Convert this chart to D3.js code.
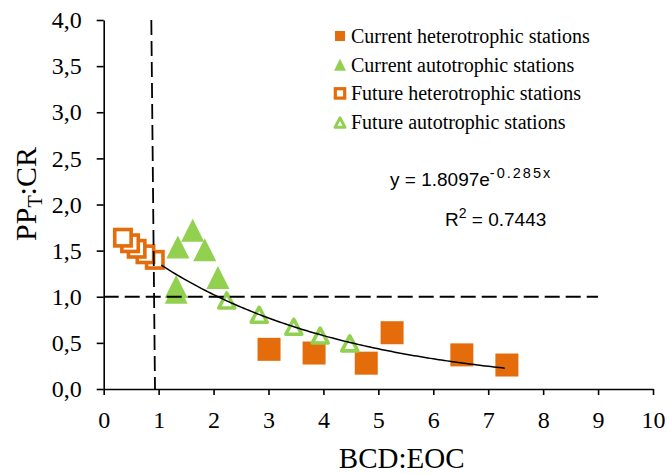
<!DOCTYPE html>
<html>
<head>
<meta charset="utf-8">
<script src="https://cdn.jsdelivr.net/npm/d3@7"></script>
<style>
  body { margin: 0; background: #fff; }
  svg { display: block; }
</style>
</head>
<body>
<div id="chart"></div>
<script>
// values
const currentHetero = [[3.01, 0.43], [3.83, 0.39], [4.78, 0.28], [5.25, 0.61], [6.52, 0.37], [7.34, 0.26]];
const currentAuto = [[1.35, 1.54], [1.62, 1.72], [1.84, 1.51], [2.08, 1.21], [1.32, 1.11], [1.32, 1.05]];
const futureHetero = [[0.93, 1.40], [0.76, 1.46], [0.60, 1.52], [0.48, 1.58], [0.35, 1.64]];
const futureAuto = [[2.24, 0.965], [2.83, 0.81], [3.46, 0.68], [3.94, 0.585], [4.48, 0.50]];
const xTicks = [0, 1, 2, 3, 4, 5, 6, 7, 8, 9, 10];
const yTicks = [0, 0.5, 1, 1.5, 2, 2.5, 3, 3.5, 4];
const legendLabels = ['Current heterotrophic stations', 'Current autotrophic stations',
  'Future heterotrophic stations', 'Future autotrophic stations'];
// trend line y = a * e^(b x), drawn over the fitted range
const trendA = 1.8097, trendB = -0.285, trendRange = [1.05, 7.34];

const orange = '#E46C0A', green = '#92D050';
const serif = "'Liberation Serif', 'Times New Roman', serif";
const sans = "'Liberation Sans', Arial, sans-serif";
const W = 667, H = 474;

const svg = d3.select('#chart').append('svg')
  .attr('width', W).attr('height', H);

const x = d3.scaleLinear().domain([0, 10]).range([103.7, 653]);
const y = d3.scaleLinear().domain([0, 4]).range([389, 20]);

// triangle path centred on its bounding box
const tri = (w, h) => `M0,${-h / 2}L${w / 2},${h / 2}L${-w / 2},${h / 2}Z`;

// axes
const fmt = d => d3.format('.1f')(d).replace('.', ',');
const xAxis = svg.append('g')
  .attr('transform', `translate(0, ${y(0)})`)
  .call(d3.axisBottom(x).tickValues(xTicks).tickSize(6).tickSizeOuter(0).tickPadding(16));
const yAxis = svg.append('g')
  .attr('transform', `translate(${x(0)}, 0)`)
  .call(d3.axisLeft(y).tickValues(yTicks).tickFormat(fmt).tickSize(7).tickSizeOuter(0).tickPadding(15));
[xAxis, yAxis].forEach(g => {
  g.select('.domain').attr('stroke', '#000').attr('stroke-width', 1.6);
  g.selectAll('.tick line').attr('stroke', '#000').attr('stroke-width', 1.6);
  g.selectAll('.tick text')
    .attr('fill', '#000')
    .attr('font-family', serif)
    .attr('font-size', 24);
});

// markers
const plot = svg.append('g');
plot.selectAll('rect.ch').data(currentHetero).enter().append('rect')
  .attr('class', 'ch')
  .attr('x', d => x(d[0]) - 11.5).attr('y', d => y(d[1]) - 11.5)
  .attr('width', 23).attr('height', 23)
  .attr('fill', orange);
plot.selectAll('path.ca').data(currentAuto).enter().append('path')
  .attr('class', 'ca')
  .attr('d', tri(23, 23))
  .attr('transform', d => `translate(${x(d[0])}, ${y(d[1])})`)
  .attr('fill', green);
plot.selectAll('rect.fh').data(futureHetero).enter().append('rect')
  .attr('class', 'fh')
  .attr('x', d => x(d[0]) - 8.2).attr('y', d => y(d[1]) - 8.2)
  .attr('width', 16.4).attr('height', 16.4)
  .attr('fill', '#fff').attr('stroke', orange).attr('stroke-width', 3.6);
plot.selectAll('path.fa').data(futureAuto).enter().append('path')
  .attr('class', 'fa')
  .attr('d', tri(16, 15))
  .attr('transform', d => `translate(${x(d[0])}, ${y(d[1]) + 0.5})`)
  .attr('fill', '#fff').attr('stroke', green).attr('stroke-width', 3.6)
  .attr('stroke-linejoin', 'round');

// dashed reference lines
svg.append('line')
  .attr('x1', x(0)).attr('x2', x(9)).attr('y1', y(1)).attr('y2', y(1))
  .attr('stroke', '#000').attr('stroke-width', 1.8).attr('stroke-dasharray', '15,6');
svg.append('line')
  .attr('x1', x(0.867)).attr('x2', x(0.934)).attr('y1', y(4)).attr('y2', y(0))
  .attr('stroke', '#000').attr('stroke-width', 1.8).attr('stroke-dasharray', '15,6');

// trend line
const trendXs = d3.range(trendRange[0], trendRange[1] + 0.001, 0.05);
svg.append('path')
  .datum(trendXs)
  .attr('d', d3.line().x(d => x(d)).y(d => y(trendA * Math.exp(trendB * d))))
  .attr('fill', 'none').attr('stroke', '#000').attr('stroke-width', 1.5);

// equation
const eq = svg.append('text')
  .attr('x', 390).attr('y', 186)
  .attr('font-family', sans)
  .attr('font-size', 19).attr('fill', '#000');
eq.append('tspan').text('y = 1.8097e');
eq.append('tspan').attr('dy', -8).attr('font-size', 14.5).attr('letter-spacing', 2).text('-0.285x');
const r2 = svg.append('text')
  .attr('x', 445).attr('y', 226)
  .attr('font-family', sans)
  .attr('font-size', 19).attr('fill', '#000');
r2.append('tspan').text('R');
r2.append('tspan').attr('dy', -8).attr('font-size', 14).text('2');
r2.append('tspan').attr('dy', 8).text(' = 0.7443');

// axis titles
svg.append('text')
  .attr('x', 401.7).attr('y', 468)
  .attr('text-anchor', 'middle')
  .attr('font-family', serif)
  .attr('font-size', 29).attr('fill', '#000')
  .text('BCD:EOC');
const yt = svg.append('text')
  .attr('transform', 'translate(36, 194) rotate(-90)')
  .attr('text-anchor', 'middle')
  .attr('font-family', serif)
  .attr('font-size', 30).attr('fill', '#000');
yt.append('tspan').text('PP');
yt.append('tspan').attr('dy', 6).attr('font-size', 20).text('T');
yt.append('tspan').attr('dy', -6).text(':CR');

// legend
const legend = svg.append('g').attr('transform', 'translate(340, 36)');
const rows = legend.selectAll('g').data(legendLabels).enter().append('g')
  .attr('transform', (d, i) => `translate(0, ${i * 28.7})`);
rows.append('text')
  .attr('x', 11).attr('y', 6.8)
  .attr('font-family', serif)
  .attr('font-size', 20).attr('fill', '#000')
  .text(d => d);
rows.each(function (d, i) {
  const g = d3.select(this);
  if (i === 0) g.append('rect').attr('x', -5).attr('y', -5).attr('width', 10).attr('height', 10).attr('fill', orange);
  if (i === 1) g.append('path').attr('d', tri(12, 12)).attr('fill', green);
  if (i === 2) g.append('rect').attr('x', -4.7).attr('y', -4.7).attr('width', 9.4).attr('height', 9.4)
    .attr('fill', '#fff').attr('stroke', orange).attr('stroke-width', 3.2);
  if (i === 3) g.append('path').attr('d', tri(10, 9.5)).attr('transform', 'translate(0,0.5)')
    .attr('fill', '#fff').attr('stroke', green).attr('stroke-width', 3).attr('stroke-linejoin', 'round');
});
</script>
</body>
</html>
